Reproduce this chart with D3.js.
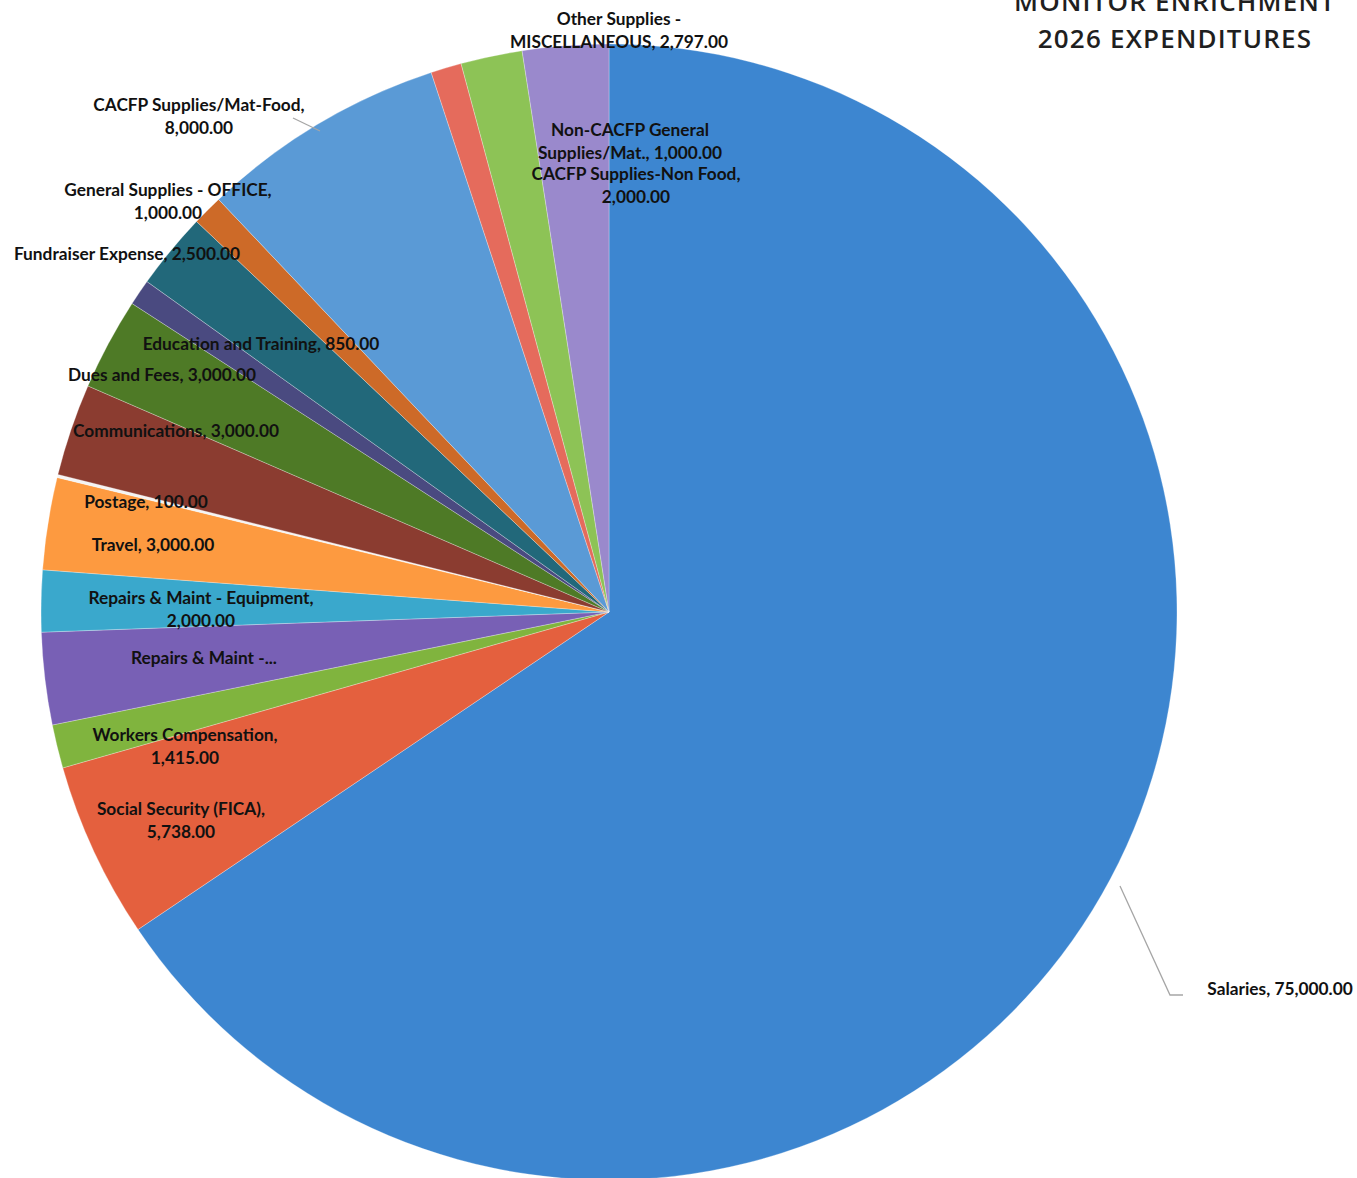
<!DOCTYPE html>
<html><head><meta charset="utf-8">
<script src="https://cdn.jsdelivr.net/npm/d3@7"></script>
<style>
html,body{margin:0;padding:0;background:#fff;}
svg{display:block;}
text{font-family:Lato,"Open Sans",sans-serif;}
</style></head>
<body><div id="chart"></div>
<script>
// ---- data ----
const categories = [
  "Salaries","Social Security (FICA)","Workers Compensation","Repairs & Maint -...",
  "Repairs & Maint - Equipment","Travel","Postage","Communications","Dues and Fees",
  "Education and Training","Fundraiser Expense","General Supplies - OFFICE",
  "CACFP Supplies/Mat-Food","Non-CACFP General Supplies/Mat.","CACFP Supplies-Non Food",
  "Other Supplies - MISCELLANEOUS"
];
const values = [75000,5738,1415,3000,2000,3000,100,3000,3000,850,2500,1000,8000,1000,2000,2797];
const titleLines = ["MONITOR ENRICHMENT","2026 EXPENDITURES"];

// label text lines (category, value)
const labelLines = [
  ["Salaries, 75,000.00"],
  ["Social Security (FICA),","5,738.00"],
  ["Workers Compensation,","1,415.00"],
  ["Repairs & Maint -..."],
  ["Repairs & Maint - Equipment,","2,000.00"],
  ["Travel, 3,000.00"],
  ["Postage, 100.00"],
  ["Communications, 3,000.00"],
  ["Dues and Fees, 3,000.00"],
  ["Education and Training, 850.00"],
  ["Fundraiser Expense, 2,500.00"],
  ["General Supplies - OFFICE,","1,000.00"],
  ["CACFP Supplies/Mat-Food,","8,000.00"],
  ["Non-CACFP General","Supplies/Mat., 1,000.00"],
  ["CACFP Supplies-Non Food,","2,000.00"],
  ["Other Supplies -","MISCELLANEOUS, 2,797.00"]
];

// ---- style / layout ----
const colors = ["#3d86d0","#e4603e","#80b43e","#7860b5","#3aa8cc","#fd9a40","#f4f4f4","#8b3c30",
                "#4e7a26","#4a4a80","#22687a","#cd6a28","#5a9ad6","#e56b5c","#8dc356","#9a89cc"];
// label anchor (center x, first line center y)
const labelPos = [
  [1280,989],[181,809],[185,735],[204,658],[201,598],[153,545],[146,502],[176,431],
  [162,375],[261,344],[127,254],[168,190],[199,105],[630,130],[636,174],[619,19]
];
const W = 1357, H = 1178, cx = 609, cy = 612, R = 568;

const svg = d3.select("#chart").append("svg").attr("width",W).attr("height",H);

const data = categories.map((c,i)=>({cat:c,value:values[i],i}));
const pie = d3.pie().value(d=>d.value).sort(null).startAngle(0).endAngle(2*Math.PI);
const arc = d3.arc().innerRadius(0).outerRadius(R);
const arcs = pie(data);

const g = svg.append("g").attr("transform",`translate(${cx},${cy})`);
g.selectAll("path").data(arcs).join("path")
  .attr("d",arc)
  .attr("fill",d=>colors[d.data.i])
  .attr("stroke","rgba(255,255,255,0.35)")
  .attr("stroke-width",0.8);

// leader lines
const leader = d3.line();
svg.append("path").attr("d",leader([[1120,886],[1170,995],[1183,995]]))
  .attr("fill","none").attr("stroke","#a6a6a6").attr("stroke-width",1.3);
svg.append("path").attr("d",leader([[293,118],[320,131]]))
  .attr("fill","none").attr("stroke","#a6a6a6").attr("stroke-width",1.3);

// labels
const lg = svg.append("g");
arcs.forEach((a,k)=>{
  const i = a.data.i;
  const [lx,ly] = labelPos[i];
  const t = lg.append("text")
    .attr("text-anchor","middle")
    .attr("font-size","17.3px").attr("font-weight","700").attr("fill","#111");
  labelLines[i].forEach((s,j)=>{
    t.append("tspan").attr("x",lx).attr("y",ly + j*23).attr("dy","0.35em").text(s);
  });
});

// title
const tg = svg.append("g");
titleLines.forEach((s,j)=>{
  tg.append("text").attr("x",1175).attr("y",11 + j*37)
    .attr("text-anchor","middle").attr("font-size","26px").attr("fill","#1f1f1f")
    .attr("font-weight","600")
    .attr("letter-spacing","1.2px")
    .style("font-family","'Open Sans',sans-serif")
    .text(s);
});
</script>
</body></html>
